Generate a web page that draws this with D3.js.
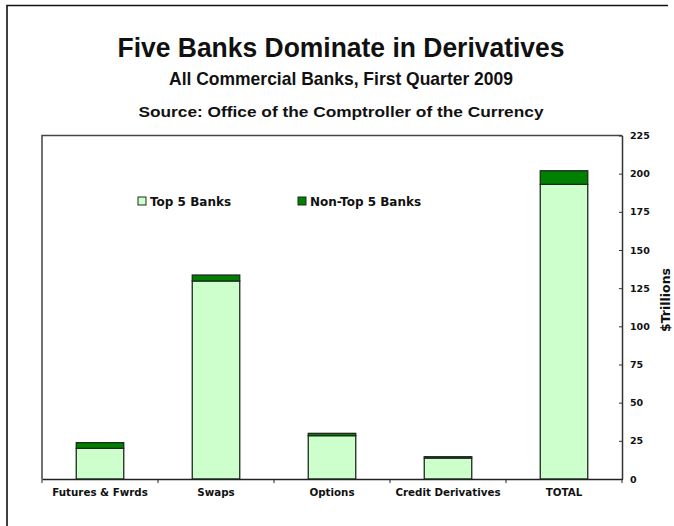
<!DOCTYPE html>
<html>
<head>
<meta charset="utf-8">
<script src="https://cdn.jsdelivr.net/npm/d3@7"></script>
<style>
  body { margin: 0; background: #fff; }
  svg { display: block; }
</style>
</head>
<body>
<svg id="chart" width="674" height="526"></svg>
<script>
// values, $ trillions
const categories = ["Futures & Fwrds", "Swaps", "Options", "Credit Derivatives", "TOTAL"];
const top5 = [20.1, 129.7, 28.4, 13.7, 193.0];
const nonTop5 = [3.7, 3.9, 1.5, 0.9, 8.9];
const yTicks = [0, 25, 50, 75, 100, 125, 150, 175, 200, 225];
const seriesNames = ["Top 5 Banks", "Non-Top 5 Banks"];
const seriesColors = ["#ccffcc", "#008000"];

const svg = d3.select("#chart");
const plotL = 42, plotR = 622, plotT = 135.5, plotB = 479;

// outer frame (left and top edges)
svg.append("path")
  .attr("d", "M7,526 V5.5 H668")
  .attr("fill", "none")
  .attr("stroke", "#111")
  .attr("stroke-width", 1.6);

// titles
function title(txt, y, size, fam, width) {
  svg.append("text")
    .attr("x", 341).attr("y", y)
    .attr("text-anchor", "middle")
    .style("font-family", fam)
    .style("font-weight", "bold")
    .style("font-size", size + "px")
    .attr("textLength", width)
    .attr("lengthAdjust", "spacingAndGlyphs")
    .style("fill", "#111")
    .text(txt);
}
title("Five Banks Dominate in Derivatives", 57, 28.5, "'Liberation Sans Narrow', 'Liberation Sans', sans-serif", 447);
title("All Commercial Banks, First Quarter 2009", 85, 18.5, "'Liberation Sans Narrow', 'Liberation Sans', sans-serif", 344);
title("Source: Office of the Comptroller of the Currency", 117, 15, "'Liberation Sans', Arial, sans-serif", 405);

const x = d3.scaleBand().domain(categories).range([plotL, plotR]);
const y = d3.scaleLinear().domain([0, 225]).range([plotB, plotT]);
const barW = 47.5;

// plot frame: left and top
svg.append("path")
  .attr("d", `M${plotL},${plotB} V${plotT} H${plotR}`)
  .attr("fill", "none")
  .attr("stroke", "#444")
  .attr("stroke-width", 1.5);

const stacked = d3.stack().keys([0, 1])(categories.map((c, i) => ({0: top5[i], 1: nonTop5[i], cat: c})));

svg.append("g").selectAll("g")
  .data(stacked)
  .join("g")
  .attr("fill", (d, i) => seriesColors[i])
  .selectAll("rect")
  .data(d => d)
  .join("rect")
  .attr("x", d => x(d.data.cat) + x.bandwidth() / 2 - barW / 2)
  .attr("width", barW)
  .attr("y", d => y(d[1]))
  .attr("height", d => y(d[0]) - y(d[1]))
  .attr("stroke", "#1e2a1e")
  .attr("stroke-width", 1.3);

// right value axis
const yAxis = svg.append("g")
  .attr("transform", `translate(${plotR},0)`)
  .call(d3.axisRight(y).tickValues(yTicks).tickSize(0).tickPadding(8));
yAxis.select(".domain").attr("stroke", "#333").attr("stroke-width", 1.5);
yAxis.selectAll(".tick").append("line")
  .attr("x1", -3).attr("x2", 1).attr("stroke", "#333");
yAxis.selectAll("text")
  .style("font-family", "'DejaVu Sans', Verdana, sans-serif")
  .style("font-weight", "bold")
  .style("font-size", "9.5px")
  .style("fill", "#111");

svg.append("text")
  .attr("transform", "translate(670,300) rotate(-90)")
  .attr("text-anchor", "middle")
  .style("font-family", "'DejaVu Sans', Verdana, sans-serif")
  .style("font-weight", "bold")
  .style("font-size", "12.5px")
  .style("fill", "#111")
  .text("$Trillions");

// category axis
const xAxis = svg.append("g")
  .attr("transform", `translate(0,${plotB})`)
  .call(d3.axisBottom(x).tickSize(0).tickPadding(10));
xAxis.select(".domain").attr("stroke", "#222").attr("stroke-width", 1.5);
xAxis.selectAll("text")
  .style("font-family", "'DejaVu Sans', Verdana, sans-serif")
  .style("font-weight", "bold")
  .style("font-size", "10.3px")
  .style("fill", "#111");
const bounds = [plotL].concat(categories.map(c => x(c) + x.bandwidth()));
xAxis.selectAll(".sep")
  .data(bounds)
  .join("line")
  .attr("class", "sep")
  .attr("x1", d => d).attr("x2", d => d)
  .attr("y1", 0).attr("y2", 4)
  .attr("stroke", "#222");

// legend
const legendX = [138, 298];
const lg = svg.append("g").selectAll("g")
  .data(seriesNames)
  .join("g")
  .attr("transform", (d, i) => `translate(${legendX[i]},197)`);
lg.append("rect")
  .attr("width", 8).attr("height", 8)
  .attr("fill", (d, i) => seriesColors[i])
  .attr("stroke", "#1e2a1e")
  .attr("stroke-width", 1);
lg.append("text")
  .attr("x", 12).attr("y", 8.5)
  .style("font-family", "'DejaVu Sans', Verdana, sans-serif")
  .style("font-weight", "bold")
  .style("font-size", "12px")
  .style("fill", "#111")
  .text(d => d);
</script>
</body>
</html>
